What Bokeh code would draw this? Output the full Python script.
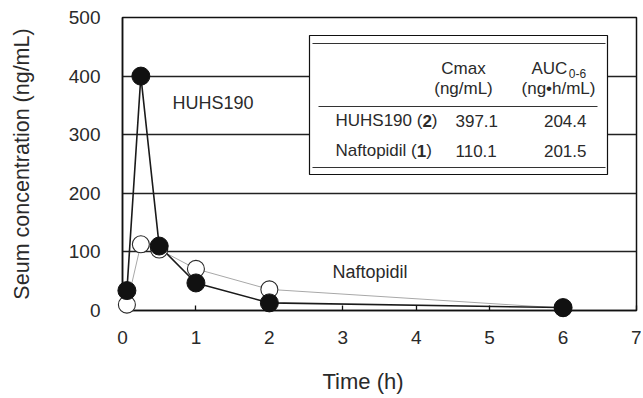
from bokeh.plotting import figure
from bokeh.models import Range1d, FixedTicker, Title
from bokeh.core.properties import value
from bokeh.embed import file_html
from bokeh.resources import INLINE

# ---- data ----
time_h = [0.06, 0.25, 0.5, 1, 2, 6]
huhs190 = [34, 400, 110, 47, 13, 5]
naftopidil = [10, 113, 104, 71, 36, 4]
x_ticks = [0, 1, 2, 3, 4, 5, 6, 7]
y_ticks = [0, 100, 200, 300, 400, 500]

table_header = ["Cmax", "(ng/mL)", "AUC", "0-6", "(ng\u2022h/mL)"]
row_names = ["HUHS190 (", "Naftopidil ("]
row_ids = ["2", "1"]
cmax_vals = ["397.1", "110.1"]
auc_vals = ["204.4", "201.5"]

FONT = value("Liberation Sans")
TXT = "#2a2a2a"

# frame geometry (page pixels) for placing the inset
FL, FR, FT, FB = 122, 636, 17, 310
def X(px):
    return (px - FL) * 7.0 / (FR - FL)
def Y(py):
    return (FB - py) * 500.0 / (FB - FT)

p = figure(frame_width=FR - FL, frame_height=FB - FT,
           min_border_left=FL, min_border_top=FT, min_border_right=5, min_border_bottom=87,
           x_range=Range1d(0, 7), y_range=Range1d(0, 500),
           output_backend="svg", toolbar_location=None,
           background_fill_color="white", border_fill_color="white")

p.outline_line_color = "#111111"
p.outline_line_width = 1.5
p.xgrid.grid_line_color = None
p.ygrid.grid_line_color = "#222222"
p.ygrid.grid_line_width = 1.3

p.xaxis.ticker = FixedTicker(ticks=x_ticks)
p.yaxis.ticker = FixedTicker(ticks=y_ticks)
for ax in (p.xaxis[0], p.yaxis[0]):
    ax.axis_line_color = "#111111"
    ax.axis_line_width = 1.5
    ax.major_label_text_font = "Liberation Sans"
    ax.major_label_text_font_size = "19px"
    ax.major_label_text_color = TXT
    ax.minor_tick_line_color = None
p.xaxis.major_tick_in = 5
p.xaxis.major_tick_out = 0
p.xaxis.major_tick_line_color = "#111111"
p.xaxis.major_tick_line_width = 1.3
p.yaxis.major_tick_in = 0
p.yaxis.major_tick_out = 0
p.xaxis.major_label_standoff = 20
p.yaxis.major_label_standoff = 22

# y axis title
p.yaxis.axis_label = "Seum concentration (ng/mL)"
p.yaxis.axis_label_text_font = "Liberation Sans"
p.yaxis.axis_label_text_font_size = "21.5px"
p.yaxis.axis_label_text_font_style = "normal"
p.yaxis.axis_label_text_color = TXT
p.yaxis.axis_label_standoff = 32

# x axis title (reference places it left of centre)
p.add_layout(Title(text="Time (h)", align="left", offset=200, standoff=40,
                   text_font="Liberation Sans", text_font_size="22px",
                   text_font_style="normal", text_color=TXT), "below")

# ---- data series ----
p.line(time_h, naftopidil, line_color="#a8a8a8", line_width=1)
p.line(time_h, huhs190, line_color="#1a1a1a", line_width=1.6)
p.scatter(time_h, naftopidil, marker="circle", size=17, fill_color="white",
          line_color="#2a2a2a", line_width=1.1, level="overlay")
p.scatter(time_h, huhs190, marker="circle", size=18, fill_color="#111111",
          line_color="#111111", line_width=1, level="overlay")

# ---- series labels ----
p.text([X(172)], [Y(102)], text=["HUHS190"], text_font=FONT, text_font_size=value("18px"),
       text_color=TXT, text_baseline="middle", text_align="left")
p.text([X(332)], [Y(271)], text=["Naftopidil"], text_font=FONT, text_font_size=value("18px"),
       text_color=TXT, text_baseline="middle", text_align="left")

# ---- inset table ----
p.quad(left=[X(309)], right=[X(607)], top=[Y(35)], bottom=[Y(174)],
       fill_color="white", line_color="#111111", line_width=1.2)
p.segment(x0=[X(312), X(312), X(318)], x1=[X(605), X(605), X(597)],
          y0=[Y(43), Y(167), Y(106)], y1=[Y(43), Y(167), Y(106)],
          line_color="#333333", line_width=1.2)

fs = 17
def tx(x, y, s, align="left", size=fs, style="normal", xoff=0):
    p.text([x], [y], text=[s], text_font=FONT, text_font_size=value(f"{size}px"),
           text_color=TXT, text_baseline="middle", text_align=align,
           text_font_style=style, x_offset=xoff)

tx(X(463), Y(68), table_header[0], align="center")
tx(X(463), Y(88), table_header[1], align="center")
# AUC with subscript
auc_w = (0.722 + 0.722 + 0.722) * fs
sub_w = (0.556 + 0.333 + 0.556) * 12
start = 558 - (auc_w + sub_w) / 2
tx(X(start), Y(68), table_header[2], align="left")
tx(X(start + auc_w + 0.5), Y(73), table_header[3], align="left", size=12)
tx(X(558), Y(88), table_header[4], align="center")

name_w = [(0.722 * 3 + 0.667 + 0.556 * 3 + 0.278 + 0.333) * fs,
          (0.722 + 0.556 + 0.278 + 0.278 + 0.556 + 0.556 + 0.222 + 0.556 + 0.222 + 0.222 + 0.278 + 0.333) * fs]
for i, ry in enumerate([120, 150]):
    tx(X(335), Y(ry), row_names[i])
    tx(X(335), Y(ry), row_ids[i], style="bold", xoff=name_w[i])
    tx(X(335), Y(ry), ")", xoff=name_w[i] + 0.556 * fs)
    tx(X(455), Y(ry), cmax_vals[i])
    tx(X(586), Y(ry), auc_vals[i], align="right")

open("out.html", "w").write(file_html(p, INLINE))
